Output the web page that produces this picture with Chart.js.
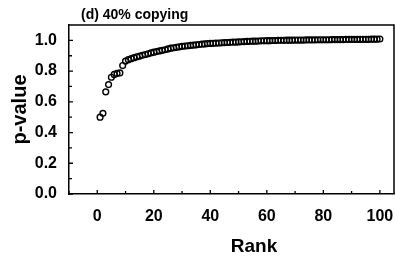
<!DOCTYPE html>
<html>
<head>
<meta charset="utf-8">
<script src="https://cdn.jsdelivr.net/npm/chart.js@4.4.0/dist/chart.umd.min.js"></script>
<style>
  html, body { margin: 0; padding: 0; background: #fff; overflow: hidden; }
  #grafica { display: block; }
</style>
</head>
<body>
<canvas id="grafica" width="395" height="259"></canvas>
<script>
// datos
var tituloGrafica = "(d) 40% copying"
var tituloX = "Rank"
var tituloY = "p-value"

var rangos = [1, 2, 3, 4, 5, 6, 7, 8, 9, 10, 11, 12, 13, 14, 15, 16, 17, 18, 19, 20,
    21, 22, 23, 24, 25, 26, 27, 28, 29, 30, 31, 32, 33, 34, 35, 36, 37, 38, 39, 40,
    41, 42, 43, 44, 45, 46, 47, 48, 49, 50, 51, 52, 53, 54, 55, 56, 57, 58, 59, 60,
    61, 62, 63, 64, 65, 66, 67, 68, 69, 70, 71, 72, 73, 74, 75, 76, 77, 78, 79, 80,
    81, 82, 83, 84, 85, 86, 87, 88, 89, 90, 91, 92, 93, 94, 95, 96, 97, 98, 99, 100]

var valoresP = [0.500, 0.525, 0.665, 0.712, 0.760, 0.778, 0.785, 0.788, 0.836, 0.865,
    0.874, 0.881, 0.887, 0.893, 0.898, 0.903, 0.908, 0.913, 0.918, 0.923,
    0.927, 0.931, 0.935, 0.939, 0.944, 0.949, 0.952, 0.955, 0.958, 0.961,
    0.963, 0.965, 0.967, 0.969, 0.971, 0.973, 0.975, 0.977, 0.979, 0.980,
    0.981, 0.982, 0.983, 0.984, 0.985, 0.986, 0.987, 0.988, 0.989, 0.990,
    0.991, 0.992, 0.993, 0.994, 0.995, 0.995, 0.996, 0.997, 0.997, 0.998,
    0.998, 0.999, 0.999, 1.000, 1.000, 1.000, 1.001, 1.001, 1.001, 1.002,
    1.002, 1.002, 1.002, 1.003, 1.003, 1.003, 1.003, 1.004, 1.004, 1.004,
    1.004, 1.004, 1.005, 1.005, 1.005, 1.005, 1.005, 1.006, 1.006, 1.006,
    1.006, 1.006, 1.007, 1.007, 1.007, 1.007, 1.008, 1.008, 1.008, 1.009]

var ticksX = [0, 20, 40, 60, 80, 100]
var ticksXMenores = [-10, 10, 30, 50, 70, 90]
var ticksY = [0, 0.2, 0.4, 0.6, 0.8, 1.0]
var ticksYMenores = [0.1, 0.3, 0.5, 0.7, 0.9]

var fuente = "'Liberation Sans', Arial, Helvetica, sans-serif"

// marcas hacia dentro, marco de arriba/derecha y textos sueltos
var pluginMarco = {
    id: 'marco',
    afterDraw: function (chart) {
        var ctx = chart.ctx
        var area = chart.chartArea
        var sx = chart.scales.x
        var sy = chart.scales.y
        ctx.save()
        ctx.strokeStyle = '#000'
        ctx.lineWidth = 1.5
        ctx.beginPath()
        ctx.moveTo(area.left, area.top)
        ctx.lineTo(area.right, area.top)
        ctx.lineTo(area.right, area.bottom)
        ctx.stroke()

        ctx.lineWidth = 1.3
        ctx.beginPath()
        for (let i = 0; i < ticksX.length; i++) {
            var px = sx.getPixelForValue(ticksX[i])
            ctx.moveTo(px, area.bottom)
            ctx.lineTo(px, area.bottom - 4)
        }
        for (let i = 0; i < ticksXMenores.length; i++) {
            var px2 = sx.getPixelForValue(ticksXMenores[i])
            ctx.moveTo(px2, area.bottom)
            ctx.lineTo(px2, area.bottom - 3)
        }
        for (let i = 0; i < ticksY.length; i++) {
            var py = sy.getPixelForValue(ticksY[i])
            ctx.moveTo(area.left, py)
            ctx.lineTo(area.left + 4, py)
        }
        for (let i = 0; i < ticksYMenores.length; i++) {
            var py2 = sy.getPixelForValue(ticksYMenores[i])
            ctx.moveTo(area.left, py2)
            ctx.lineTo(area.left + 3, py2)
        }
        ctx.stroke()

        ctx.fillStyle = '#000'
        ctx.textBaseline = 'alphabetic'
        ctx.textAlign = 'left'
        ctx.font = "bold 14px " + fuente
        ctx.fillText(tituloGrafica, 81, 19)

        ctx.textAlign = 'center'
        ctx.font = "bold 19px " + fuente
        ctx.fillText(tituloX, 254, 252)
        ctx.restore()
    }
}

var datos = []
for (let index = 0; index < rangos.length; index++) {
    datos.push({x: rangos[index], y: valoresP[index]})
}

var ctx = document.getElementById('grafica').getContext('2d');

new Chart(ctx, {
    type: 'scatter',
    data: {
        datasets: [{
            data: datos,
            pointStyle: 'circle',
            pointRadius: 2.9,
            pointBorderWidth: 1.4,
            borderColor: '#000',
            backgroundColor: 'rgba(0,0,0,0)'
        }]
    },
    options: {
        responsive: false,
        animation: false,
        layout: {
            autoPadding: false,
            padding: {top: 25, right: 1, left: 0, bottom: 0}
        },
        plugins: {
            legend: {display: false},
            tooltip: {enabled: false},
            title: {display: false}
        },
        scales: {
            x: {
                type: 'linear',
                min: -10,
                max: 105,
                afterBuildTicks: function (scale) {
                    scale.ticks = ticksX.map(function (v) { return {value: v} })
                },
                afterFit: function (scale) {
                    scale.height = 65
                    scale.paddingRight = 0
                    scale.paddingLeft = 0
                },
                grid: {display: false, drawTicks: false},
                border: {display: true, color: '#000', width: 1.5},
                ticks: {
                    color: '#000',
                    padding: 13,
                    maxRotation: 0,
                    font: {family: fuente, size: 16, weight: 'bold'}
                }
            },
            y: {
                type: 'linear',
                min: 0,
                max: 1.1,
                afterBuildTicks: function (scale) {
                    scale.ticks = ticksY.map(function (v) { return {value: v} })
                },
                afterFit: function (scale) { scale.width = 69 },
                grid: {display: false, drawTicks: false},
                border: {display: true, color: '#000', width: 1.5},
                ticks: {
                    color: '#000',
                    padding: 12,
                    font: {family: fuente, size: 16, weight: 'bold'},
                    callback: function (v) { return Number(v).toFixed(1) }
                },
                title: {
                    display: true,
                    text: tituloY,
                    color: '#000',
                    padding: {top: 8, bottom: 0},
                    font: {family: fuente, size: 20, weight: 'bold'}
                }
            }
        }
    },
    plugins: [pluginMarco]
});
</script>
</body>
</html>
